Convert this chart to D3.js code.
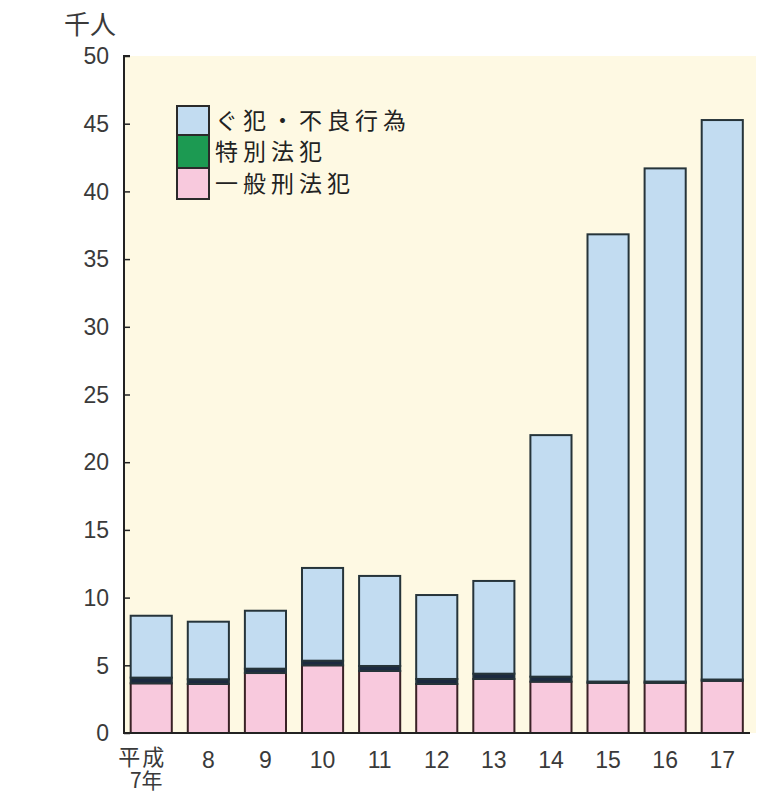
<!DOCTYPE html>
<html><head><meta charset="utf-8">
<script src="https://cdn.jsdelivr.net/npm/d3@7"></script>
<style>
html,body{margin:0;padding:0;background:#fff;}
svg{display:block;font-family:"Liberation Sans","Noto Sans CJK JP",sans-serif;}
</style></head>
<body>
<script>
const categories = ["平成7年","8","9","10","11","12","13","14","15","16","17"];
const general   = [3.67,3.62,4.43,5.00,4.58,3.62,3.99,3.79,3.70,3.70,3.85];   // 一般刑法犯
const special   = [0.42,0.35,0.32,0.34,0.37,0.37,0.39,0.37,0.10,0.10,0.10];   // 特別法犯
const guhan     = [4.57,4.25,4.28,6.85,6.65,6.20,6.85,17.84,33.03,37.90,41.32]; // ぐ犯・不良行為
const yTicks    = [0,5,10,15,20,25,30,35,40,45,50];
const seriesNames = ["一般刑法犯","特別法犯","ぐ犯・不良行為"];
const colors = {"一般刑法犯":"#f8c9dd","特別法犯":"#1c9a52","ぐ犯・不良行為":"#c2dcf1"};

const W=767,H=795;
const svg=d3.select("body").append("svg").attr("width",W).attr("height",H);
const x0=124,x1=750,yTop=56,yBot=733;
const x=d3.scaleBand().domain(categories).range([x0,749.5]).paddingInner(0.28).paddingOuter(0.117);
const y=d3.scaleLinear().domain([0,50]).range([yBot,yTop]);

// background
svg.append("rect").attr("x",x0).attr("y",yTop).attr("width",756-x0).attr("height",yBot-yTop).attr("fill","#fef9e3");

const rows=categories.map((c,i)=>({cat:c,"一般刑法犯":general[i],"特別法犯":special[i],"ぐ犯・不良行為":guhan[i]}));
const stack=d3.stack().keys(seriesNames)(rows);
stack.forEach(s=>{
  svg.append("g").selectAll("rect").data(s).join("rect")
    .attr("x",d=>x(d.data.cat)).attr("width",x.bandwidth())
    .attr("y",d=>y(d[1])).attr("height",d=>y(d[0])-y(d[1]))
    .attr("fill",s.key==="特別法犯"?"#1c2a40":colors[s.key])
    .attr("stroke",s.key==="一般刑法犯"?"#3a2226":"#26343a").attr("stroke-width",2);
});

// y axis
const ya=svg.append("g").attr("transform",`translate(${x0},0)`)
  .call(d3.axisRight(y).tickValues(yTicks).tickSize(6).tickFormat(""));
ya.select(".domain").attr("stroke","#222").attr("stroke-width",2).attr("d",`M6,${yTop}H0V${yBot}`);
ya.selectAll(".tick line").attr("stroke","#222").attr("stroke-width",1.5);
svg.append("g").selectAll("text").data(yTicks).join("text")
  .attr("x",109).attr("y",d=>y(d)).attr("dy","0.36em").attr("text-anchor","end")
  .attr("font-size",23).attr("fill","#3a3a3a").text(d=>d);

// x axis line
svg.append("line").attr("x1",x0-1).attr("x2",x1).attr("y1",yBot).attr("y2",yBot).attr("stroke","#222").attr("stroke-width",2);
// x labels
categories.forEach((c,i)=>{
  const cx=x(c)+x.bandwidth()/2;
  if(i===0){
    const t=svg.append("text").attr("text-anchor","middle")
      .attr("font-family","Noto Sans CJK JP").attr("fill","#3a3a3a");
    t.append("tspan").attr("x",cx-9).attr("y",765).attr("font-size",22).attr("letter-spacing",2).text(c.slice(0,2));
    t.append("tspan").attr("x",cx-5).attr("y",788).attr("font-size",21).text(c.slice(2));
  } else {
    svg.append("text").attr("x",cx).attr("y",768).attr("text-anchor","middle").attr("font-size",23)
      .attr("fill","#3a3a3a").text(c);
  }
});

// unit
svg.append("text").attr("x",90).attr("y",34).attr("text-anchor","middle").attr("font-size",26)
  .attr("font-family","Noto Sans CJK JP").attr("fill","#3a3a3a").text("千人");

// legend
const leg=[["ぐ犯・不良行為",106,135],["特別法犯",135,168],["一般刑法犯",168,199]];
leg.forEach(([k,t,b])=>{
  svg.append("rect").attr("x",177).attr("y",t).attr("width",32).attr("height",b-t)
    .attr("fill",colors[k]).attr("stroke","#2a2a2a").attr("stroke-width",2);
  svg.append("text").attr("x",215).attr("y",(t+b)/2).attr("dy","0.36em").attr("font-size",23)
    .attr("letter-spacing",5).attr("font-family","Noto Sans CJK JP").attr("fill","#222").text(k);
});
</script>
</body></html>
